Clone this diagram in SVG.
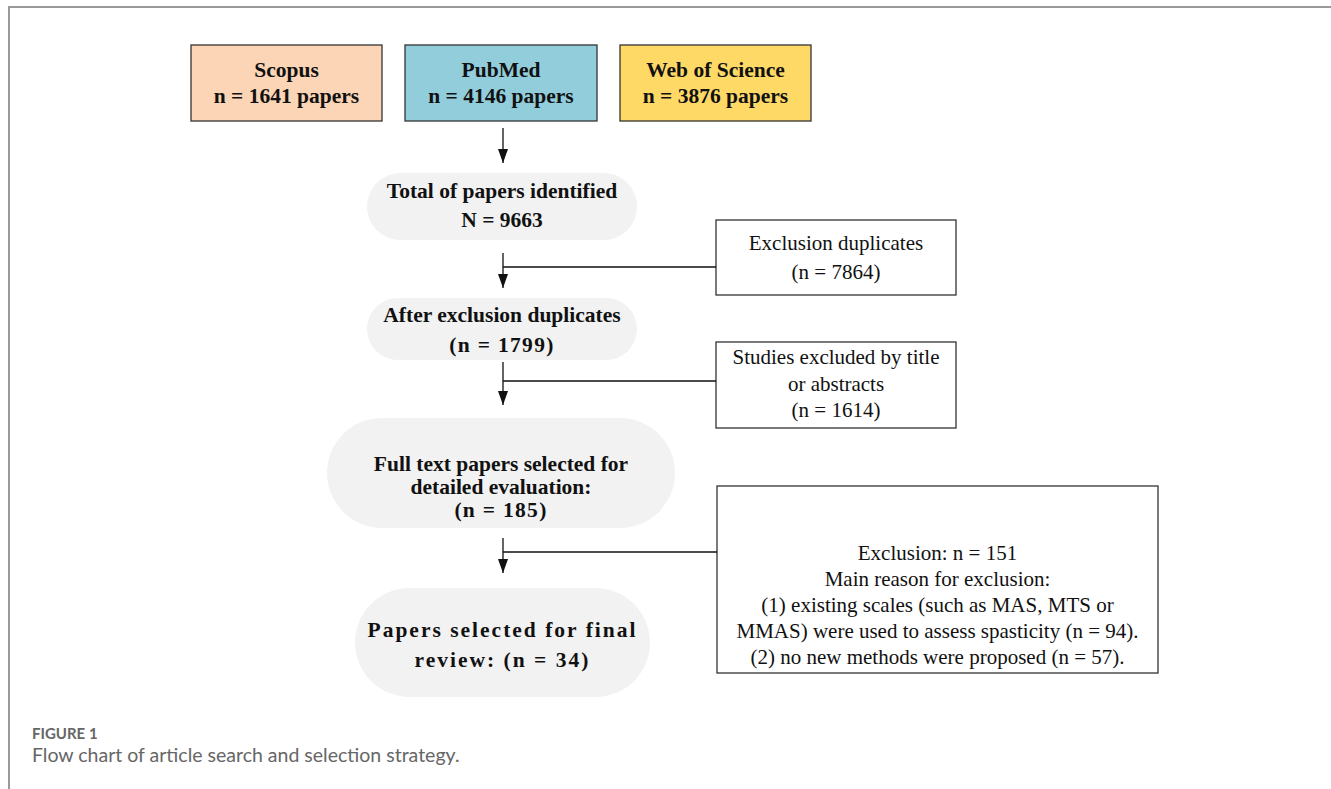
<svg xmlns="http://www.w3.org/2000/svg" width="1331" height="789" viewBox="0 0 1331 789">
<defs>
<style>
.frame{stroke:#999;stroke-width:2;fill:none}
.src{stroke:#333;stroke-width:1.3}
.pill{fill:#f2f2f2;stroke:none}
.box{fill:#fff;stroke:#333;stroke-width:1.3}
.b{font-family:"Liberation Serif","Times New Roman",serif;font-weight:bold;font-size:21.5px;fill:#111;text-anchor:middle}
.r{font-family:"Liberation Serif","Times New Roman",serif;font-size:21px;fill:#111;text-anchor:middle}
.ln{stroke:#111;stroke-width:1.3;fill:none}
.cap1{font-family:Lato,"Open Sans",sans-serif;font-weight:bold;font-size:15px;fill:#666}
.cap2{font-family:Lato,"Open Sans",sans-serif;font-size:19.5px;fill:#666}
</style>
<marker id="ah" markerWidth="14" markerHeight="10" refX="14" refY="5" orient="auto" markerUnits="userSpaceOnUse" viewBox="0 0 14 10">
<path d="M0,0 L14,5 L0,10 Z" fill="#111"/>
</marker>
</defs>
<rect width="1331" height="789" fill="#fff"/>
<path class="frame" d="M9,789 V7 H1331"/>

<g id="scopus">
<rect class="src" x="191" y="45" width="191" height="76" fill="#fbd5b5"/>
<text class="b" x="286.5" y="77">Scopus</text>
<text class="b" x="286.5" y="103">n = 1641 papers</text>
</g>
<g id="pubmed">
<rect class="src" x="405" y="45" width="192" height="76" fill="#92cddc"/>
<text class="b" x="501" y="77">PubMed</text>
<text class="b" x="501" y="103">n = 4146 papers</text>
</g>
<g id="wos">
<rect class="src" x="620" y="45" width="191" height="76" fill="#ffd966"/>
<text class="b" x="715.5" y="77">Web of Science</text>
<text class="b" x="715.5" y="103">n = 3876 papers</text>
</g>

<g id="total">
<rect class="pill" x="367" y="173" width="270" height="67" rx="33.5"/>
<text class="b" x="502" y="198">Total of papers identified</text>
<text class="b" x="502" y="227">N = 9663</text>
</g>
<g id="dup">
<rect class="box" x="716" y="220" width="240" height="75"/>
<text class="r" x="836" y="250">Exclusion duplicates</text>
<text class="r" x="836" y="279">(n = 7864)</text>
</g>
<g id="after">
<rect class="pill" x="367" y="298" width="270" height="62" rx="31"/>
<text class="b" x="502" y="322">After exclusion duplicates</text>
<text class="b" x="502" y="352" letter-spacing="1.3">(n = 1799)</text>
</g>
<g id="studies">
<rect class="box" x="716" y="342" width="240" height="86"/>
<text class="r" x="836" y="364">Studies excluded by title</text>
<text class="r" x="836" y="391">or abstracts</text>
<text class="r" x="836" y="417">(n = 1614)</text>
</g>
<g id="fulltext">
<rect class="pill" x="327" y="418" width="348" height="110" rx="55"/>
<text class="b" x="501" y="471">Full text papers selected for</text>
<text class="b" x="501" y="494">detailed evaluation:</text>
<text class="b" x="501" y="517" letter-spacing="1.3">(n = 185)</text>
</g>
<g id="exclusion">
<rect class="box" x="717" y="486" width="441" height="187"/>
<text class="r" x="937.5" y="560">Exclusion: n = 151</text>
<text class="r" x="937.5" y="586">Main reason for exclusion:</text>
<text class="r" x="937.5" y="612">(1) existing scales (such as MAS, MTS or</text>
<text class="r" x="937.5" y="638">MMAS) were used to assess spasticity (n = 94).</text>
<text class="r" x="937.5" y="664">(2) no new methods were proposed (n = 57).</text>
</g>
<g id="final">
<rect class="pill" x="355" y="588" width="295" height="109" rx="54.5"/>
<text class="b" x="502.5" y="637" letter-spacing="2">Papers selected for final</text>
<text class="b" x="502.5" y="667" letter-spacing="2">review: (n = 34)</text>
</g>

<g id="connectors">
<line class="ln" x1="503" y1="128" x2="503" y2="163" marker-end="url(#ah)"/>
<line class="ln" x1="503" y1="253" x2="503" y2="288" marker-end="url(#ah)"/>
<line class="ln" x1="503" y1="267" x2="716" y2="267"/>
<line class="ln" x1="503" y1="362" x2="503" y2="405" marker-end="url(#ah)"/>
<line class="ln" x1="503" y1="381" x2="716" y2="381"/>
<line class="ln" x1="503" y1="538" x2="503" y2="573" marker-end="url(#ah)"/>
<line class="ln" x1="503" y1="552" x2="717" y2="552"/>
</g>

<g id="caption">
<text class="cap1" x="32" y="739">FIGURE 1</text>
<text class="cap2" x="32" y="762">Flow chart of article search and selection strategy.</text>
</g>
</svg>
